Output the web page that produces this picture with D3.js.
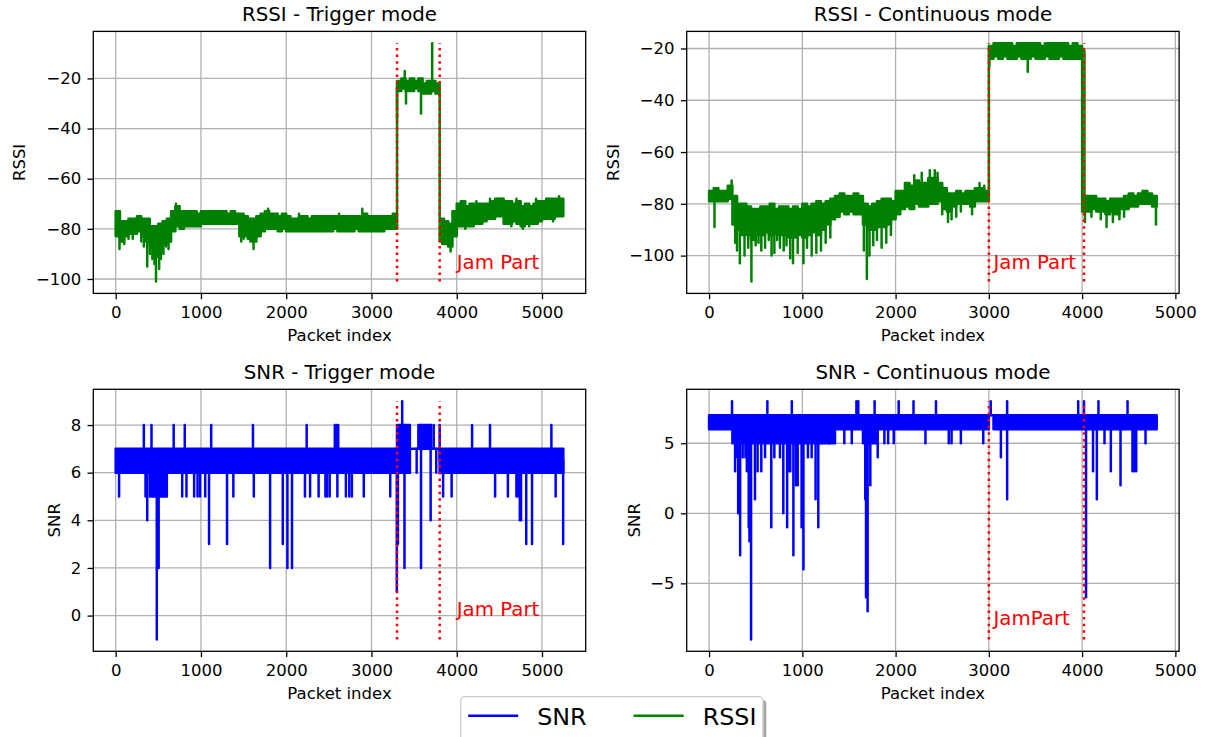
<!DOCTYPE html>
<html>
<head>
<meta charset="utf-8">
<script src="https://cdn.jsdelivr.net/npm/d3@7"></script>
<style>
  body { margin: 0; background: #fff; }
  svg { display: block; font-family: "DejaVu Sans", sans-serif; }
</style>
</head>
<body>
<svg id="chart" width="1207" height="737"></svg>
<script>
// packets per bin: each bin keeps the dense band (low/high),
// isolated excursions are listed separately as [packet, value]
const BIN = 50;

const rssiTrigLo = [-83,-85,-83,-82,-82,-81,-83,-85,-87,-91,
  -89,-86,-85,-81,-79,-80,-79,-79,-79,-79,
  -78,-78,-78,-78,-78,-78,-78,-78,-78,-83,
  -83,-84,-85,-83,-81,-80,-80,-80,-81,-80,
  -81,-81,-81,-81,-81,-81,-81,-81,-81,-81,
  -81,-80,-81,-81,-81,-81,-80,-81,-81,-81,
  -81,-81,-81,-80,-80,-80,-25,-24,-25,-25,
  -24,-25,-26,-26,-25,-26,-85,-86,-87,-83,
  -79,-79,-79,-79,-78,-78,-77,-76,-76,-75,
  -75,-78,-78,-77,-78,-79,-78,-78,-78,-77,
  -76,-76,-76,-75,-75,-74];
const rssiTrigHi = [-73,-77,-77,-76,-76,-75,-76,-76,-79,-79,
  -78,-77,-76,-73,-71,-73,-73,-73,-73,-74,
  -73,-73,-73,-73,-73,-73,-74,-73,-74,-74,
  -75,-76,-76,-75,-74,-73,-74,-74,-75,-74,
  -75,-76,-76,-75,-75,-76,-75,-75,-75,-75,
  -75,-75,-75,-75,-75,-75,-75,-75,-74,-75,
  -75,-75,-75,-75,-75,-74,-21,-20,-21,-20,
  -21,-20,-22,-21,-21,-22,-76,-77,-78,-73,
  -70,-69,-71,-70,-70,-70,-70,-70,-69,-68,
  -68,-69,-69,-70,-69,-71,-70,-71,-70,-69,
  -69,-68,-68,-68,-68,-69];
const rssiTrigSpikes = [[45,-88],[100,-86],[150,-84],[200,-84],[300,-85],[330,-87],[370,-95],
  [400,-90],[430,-92],[455,-94],[473,-101],[510,-96],[530,-92],[560,-90],[590,-87],[620,-88],
  [640,-85],[660,-74],[707,-70],[730,-72],[1473,-85],[1500,-84],[1580,-85],[1617,-88],[1650,-83],
  [1700,-82],[1750,-74],[1788,-72],[2150,-74],[2620,-74],[2892,-72],[3300,-36],[3390,-17],
  [3405,-30],[3581,-34],[3712,-6],[3830,-86],[3880,-85],[3928,-89],[4050,-69],[4100,-80],
  [4230,-69],[4390,-68],[4491,-68],[4530,-68],[4640,-79],[4700,-68],[4775,-80],[4850,-79],
  [4930,-68],[5050,-68],[5130,-77],[5200,-67]];

const rssiContLo = [-79,-79,-79,-79,-78,-88,-90,-92,-92,-94,
  -92,-92,-91,-92,-91,-92,-92,-93,-93,-92,
  -93,-92,-91,-92,-90,-88,-86,-85,-83,-84,
  -83,-84,-84,-88,-90,-90,-89,-89,-88,-86,
  -84,-82,-81,-82,-80,-81,-81,-80,-80,-79,
  -82,-83,-81,-80,-80,-80,-81,-79,-79,-79,
  -24,-23,-24,-23,-24,-24,-23,-24,-24,-23,
  -24,-24,-23,-24,-24,-23,-24,-24,-24,-24,
  -83,-83,-82,-83,-83,-84,-83,-84,-82,-82,
  -81,-81,-80,-80,-80,-81,-80];
const rssiContHi = [-75,-74,-75,-75,-73,-77,-80,-80,-81,-82,
  -82,-81,-81,-80,-82,-81,-81,-82,-81,-82,
  -80,-81,-80,-79,-80,-79,-78,-77,-76,-77,
  -77,-76,-77,-80,-81,-80,-79,-78,-78,-79,
  -75,-75,-72,-73,-71,-72,-72,-70,-70,-72,
  -74,-76,-76,-75,-76,-75,-75,-74,-74,-75,
  -19,-18,-18,-18,-18,-19,-18,-18,-18,-18,
  -18,-19,-18,-18,-18,-18,-18,-19,-18,-19,
  -77,-77,-77,-78,-78,-79,-78,-78,-78,-77,
  -76,-77,-76,-75,-76,-77,-78];
const rssiContSpikes = [[58,-89],[242,-71],[280,-95],[300,-98],[330,-103],[380,-100],[420,-97],
  [454,-110],[500,-96],[530,-95],[560,-98],[600,-97],[640,-94],[670,-100],[700,-99],[730,-94],
  [760,-97],[800,-98],[830,-96],[870,-101],[900,-103],[950,-99],[1012,-103],[1050,-97],[1100,-100],
  [1150,-99],[1200,-98],[1250,-95],[1300,-93],[1660,-98],[1692,-109],[1720,-100],[1760,-96],
  [1800,-94],[1850,-97],[1900,-95],[1950,-92],[2200,-69],[2280,-68],[2367,-67],[2420,-67],
  [2450,-68],[2500,-84],[2562,-87],[2600,-86],[2650,-85],[2700,-83],[2820,-84],[2900,-72],
  [2950,-73],[3005,-27],[3417,-29],[4025,-21],[4030,-87],[4100,-85],[4200,-86],[4262,-89],
  [4330,-87],[4400,-86],[4450,-85],[4600,-76],[4650,-75],[4792,-88]];

const snrTrigLo = [6,6,6,6,6,6,6,6,5,5,
  5,5,6,6,6,6,6,6,6,6,
  6,6,6,6,6,6,6,6,6,6,
  6,6,6,6,6,6,6,6,6,6,
  6,6,6,6,6,6,6,6,6,6,
  6,6,6,6,6,6,6,6,6,6,
  6,6,6,6,6,6,6,6,6,7,
  7,7,7,7,7,7,6,6,6,6,
  6,6,6,6,6,6,6,6,6,6,
  6,6,6,6,6,6,6,6,6,6,
  6,6,6,6,6,6];
const snrTrigHi = [7,7,7,7,7,7,7,7,7,7,
  7,7,7,7,7,7,7,7,7,7,
  7,7,7,7,7,7,7,7,7,7,
  7,7,7,7,7,7,7,7,7,7,
  7,7,7,7,7,7,7,7,7,7,
  7,7,7,7,7,7,7,7,7,7,
  7,7,7,7,7,7,8,8,8,7,
  7,8,8,8,7,7,7,7,7,7,
  7,7,7,7,7,7,7,7,7,7,
  7,7,7,7,7,7,7,7,7,7,
  7,7,7,7,7,7];
const snrTrigSpikes = [[330,8],[420,8],[680,8],[810,8],[1120,8],[1610,8],[2240,8],[2570,8],
  [2590,8],[2610,8],[3360,9],[3730,8],[3800,8],[4180,8],[4390,8],[5110,8],
  [40,5],[350,5],[370,4],[482,-1],[504,2],[780,5],[830,5],[920,5],[960,5],[990,5],[1050,5],
  [1095,3],[1306,3],[1380,5],[1620,5],[1811,2],[1960,3],[2014,2],[2068,2],[2220,5],[2280,5],
  [2380,5],[2460,5],[2480,5],[2510,5],[2600,5],[2700,5],[2740,5],[2770,5],[2910,5],[3220,5],
  [3297,1],[3310,3],[3387,2],[3450,6],[3530,6],[3581,2],[3694,4],[3760,6],[3840,5],[3940,5],
  [4450,5],[4600,5],[4700,5],[4720,5],[4740,4],[4754,4],[4815,3],[4883,3],[5160,5],[5248,3]];

const snrContLo = [6,6,6,6,6,5,5,5,5,5,
  5,5,5,5,5,5,5,5,5,5,
  5,5,5,5,5,5,5,6,6,6,
  6,6,6,5,5,5,6,6,6,6,
  6,6,6,6,6,6,6,6,6,6,
  6,6,6,6,6,6,6,6,6,6,
  7,6,6,6,6,6,6,6,6,6,
  6,6,6,6,6,6,6,6,6,6,
  6,6,6,6,6,6,6,6,6,6,
  6,6,6,6,6,6,6];
const snrContHi = [7,7,7,7,7,7,7,7,7,7,
  7,7,7,7,7,7,7,7,7,7,
  7,7,7,7,7,7,7,7,7,7,
  7,7,7,7,7,7,7,7,7,7,
  7,7,7,7,7,7,7,7,7,7,
  7,7,7,7,7,7,7,7,7,7,
  7,7,7,7,7,7,7,7,7,7,
  7,7,7,7,7,7,7,7,7,7,
  7,7,7,7,7,7,7,7,7,7,
  7,7,7,7,7,7,7];
const snrContSpikes = [[246,8],[625,8],[887,8],[1580,8],[1600,8],[1775,8],[2033,8],[2192,8],
  [2433,8],[3020,8],[3196,8],[3958,8],[4020,8],[4175,8],[4487,8],
  [279,3],[300,4],[312,0],[333,-3],[360,4],[390,4],[405,3],[425,-1],[433,-2],[450,-9],[492,1],
  [520,3],[560,3],[600,4],[667,-1],[700,4],[760,4],[796,0],[837,-1],[860,3],[870,3],[904,-3],
  [930,2],[950,2],[992,-1],[1012,-4],[1060,4],[1100,4],[1142,1],[1171,-1],[1210,5],[1290,5],
  [1450,5],[1530,5],[1675,1],[1683,-6],[1700,-7],[1729,2],[1808,4],[1880,5],[1920,5],[1980,5],
  [2320,5],[2570,5],[2600,5],[2700,5],[2940,5],[3129,4],[3196,1],[4042,-6],[4117,3],[4158,1],
  [4240,5],[4308,3],[4412,2],[4540,3],[4560,3],[4580,3],[4680,5]];

const xTicks = [0, 1000, 2000, 3000, 4000, 5000];
const rssiTicks = [-100, -80, -60, -40, -20];
const snrTrigTicks = [0, 2, 4, 6, 8];
const snrContTicks = [-5, 0, 5];
const trigJam = [3300, 3800];
const contJam = [3000, 4020];
const jamLabelPos = [[4000, -96], [3050, -105], [4000, 0], [3050, -8]];
const jamLabels = ["Jam Part", "Jam Part", "Jam Part", "JamPart"];
const titles = ["RSSI - Trigger mode", "RSSI - Continuous mode", "SNR - Trigger mode", "SNR - Continuous mode"];
const legendItems = [{ label: "SNR", color: "blue" }, { label: "RSSI", color: "green" }];

// layout (px)
const axW = 492.4, axH = 262;
const axLeft = [93.3, 686.7];
const axTop = [31.4, 389.3];
const tickLen = 5.8;

const svg = d3.select("#chart");

const panels = [
  { lo: rssiTrigLo, hi: rssiTrigHi, spikes: rssiTrigSpikes, color: "green", yTicks: rssiTicks, ylabel: "RSSI", jam: trigJam, col: 0, row: 0 },
  { lo: rssiContLo, hi: rssiContHi, spikes: rssiContSpikes, color: "green", yTicks: rssiTicks, ylabel: "RSSI", jam: contJam, col: 1, row: 0 },
  { lo: snrTrigLo, hi: snrTrigHi, spikes: snrTrigSpikes, color: "blue", yTicks: snrTrigTicks, ylabel: "SNR", jam: trigJam, col: 0, row: 1 },
  { lo: snrContLo, hi: snrContHi, spikes: snrContSpikes, color: "blue", yTicks: snrContTicks, ylabel: "SNR", jam: contJam, col: 1, row: 1 },
];

function padded(ext) {
  const m = (ext[1] - ext[0]) * 0.05;
  return [ext[0] - m, ext[1] + m];
}

panels.forEach((p, k) => {
  const left = axLeft[p.col], top = axTop[p.row];
  const bins = p.lo.map((v, i) => ({ x: i * BIN, lo: v, hi: p.hi[i] }));
  const allY = p.lo.concat(p.hi, p.spikes.map(s => s[1]));
  const yExt = d3.extent(allY);
  const x = d3.scaleLinear().domain(padded([0, (bins.length - 1) * BIN])).range([left, left + axW]);
  const y = d3.scaleLinear().domain(padded(yExt)).range([top + axH, top]);

  const g = svg.append("g");

  // grid
  g.selectAll(".gx").data(xTicks).join("line")
    .attr("x1", d => x(d)).attr("x2", d => x(d))
    .attr("y1", top).attr("y2", top + axH)
    .attr("stroke", "#b0b0b0").attr("stroke-width", 1.3);
  g.selectAll(".gy").data(p.yTicks).join("line")
    .attr("x1", left).attr("x2", left + axW)
    .attr("y1", d => y(d)).attr("y2", d => y(d))
    .attr("stroke", "#b0b0b0").attr("stroke-width", 1.3);

  // dense band
  g.append("path")
    .datum(bins)
    .attr("d", d3.area().curve(d3.curveStepAfter).x(d => x(d.x)).y0(d => y(d.lo)).y1(d => y(d.hi)))
    .attr("fill", p.color)
    .attr("stroke", p.color)
    .attr("stroke-width", 2.5)
    .attr("stroke-linejoin", "round");

  // excursions
  g.selectAll(".spike").data(p.spikes).join("line")
    .attr("x1", d => x(d[0])).attr("x2", d => x(d[0]))
    .attr("y1", d => {
      const b = bins[Math.min(bins.length - 1, Math.floor(d[0] / BIN))];
      return y((b.lo + b.hi) / 2);
    })
    .attr("y2", d => y(d[1]))
    .attr("stroke", p.color).attr("stroke-width", 2.5).attr("stroke-linecap", "round");

  // jam markers
  g.selectAll(".jam").data(p.jam).join("line")
    .attr("x1", d => x(d)).attr("x2", d => x(d))
    .attr("y1", y(yExt[0])).attr("y2", y(yExt[1]))
    .attr("stroke", "red").attr("stroke-width", 2.5)
    .attr("stroke-dasharray", "2.5,4.1");
  g.append("text")
    .attr("x", x(jamLabelPos[k][0])).attr("y", y(jamLabelPos[k][1]))
    .attr("fill", "red").attr("font-size", "19.8px")
    .text(jamLabels[k]);

  // axes
  const xa = g.append("g").attr("transform", `translate(0,${top + axH})`)
    .call(d3.axisBottom(x).tickValues(xTicks).tickFormat(d3.format("d")).tickSize(tickLen).tickPadding(7.5));
  const ya = g.append("g").attr("transform", `translate(${left},0)`)
    .call(d3.axisLeft(y).tickValues(p.yTicks).tickFormat(d3.format("d")).tickSize(tickLen).tickPadding(6.3));
  [xa, ya].forEach(a => {
    a.select(".domain").remove();
    a.selectAll(".tick line").attr("stroke", "#000").attr("stroke-width", 1.3);
    a.selectAll(".tick text").attr("fill", "#000").attr("font-size", "16.5px").attr("font-family", "DejaVu Sans, sans-serif");
  });

  // spines
  g.append("rect")
    .attr("x", left).attr("y", top).attr("width", axW).attr("height", axH)
    .attr("fill", "none").attr("stroke", "#000").attr("stroke-width", 1.3);

  // labels
  g.append("text")
    .attr("x", left + axW / 2).attr("y", top - 10)
    .attr("text-anchor", "middle").attr("font-size", "19.8px")
    .text(titles[k]);
  g.append("text")
    .attr("x", left + axW / 2).attr("y", top + axH + 48)
    .attr("text-anchor", "middle").attr("font-size", "16.5px")
    .text("Packet index");
  let maxW = 0;
  ya.selectAll(".tick text").each(function () { maxW = Math.max(maxW, this.getComputedTextLength()); });
  const lx = left - tickLen - 6.3 - maxW - 6.6 - 3.9;
  const cy = top + axH / 2;
  g.append("text")
    .attr("transform", `translate(${lx},${cy}) rotate(-90)`)
    .attr("text-anchor", "middle").attr("font-size", "16.5px")
    .text(p.ylabel);
});

// legend
const lg = svg.append("g");
const lgX = 460.7, lgY = 696.7, lgW = 302.3, lgH = 52;
lg.append("rect").attr("x", lgX + 3.3).attr("y", lgY + 3.3).attr("width", lgW).attr("height", lgH)
  .attr("rx", 4).attr("fill", "#4d4d4d").attr("opacity", 0.5);
lg.append("rect").attr("x", lgX).attr("y", lgY).attr("width", lgW).attr("height", lgH)
  .attr("rx", 4).attr("fill", "#fff").attr("stroke", "#cccccc").attr("stroke-width", 1.3);
let cx = lgX + 7.5;
legendItems.forEach(it => {
  lg.append("line").attr("x1", cx).attr("x2", cx + 50).attr("y1", 715.7).attr("y2", 715.7)
    .attr("stroke", it.color).attr("stroke-width", 2.5);
  const t = lg.append("text").attr("x", cx + 69).attr("y", 725).attr("font-size", "23.8px").text(it.label);
  cx += 69 + t.node().getComputedTextLength() + 47;
});
</script>
</body>
</html>
